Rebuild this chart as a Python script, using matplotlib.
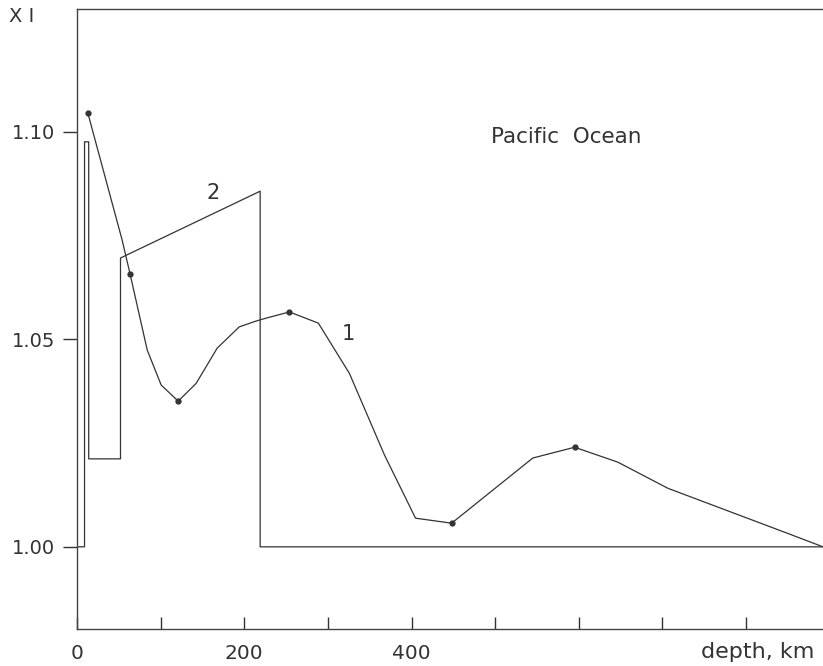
import matplotlib
matplotlib.use("Agg")
import matplotlib.pyplot as plt

# curve 1 (smooth profile, with marked nodes)
depth_1 = [13, 54, 63.5, 84, 100.6, 121, 142.5, 167.7, 194, 214, 226, 254,
           288.6, 325.7, 367.7, 404.8, 448, 545, 595, 646.7, 706.6, 849, 892]
xi_1 = [1.1045, 1.0739, 1.0657, 1.0474, 1.0390, 1.0351, 1.0394, 1.0479,
        1.0530, 1.0544, 1.0551, 1.0566, 1.0539, 1.0418, 1.0221, 1.0069,
        1.0057, 1.0214, 1.0240, 1.0204, 1.0141, 1.0033, 1.0000]
dot_depth = [13, 63.5, 121, 254, 448, 595]
dot_xi = [1.1045, 1.0657, 1.0351, 1.0566, 1.0057, 1.0240]

# curve 2 (step profile)
depth_2 = [0, 9, 9, 14, 14, 52, 52, 219, 219, 892]
xi_2 = [1.000, 1.000, 1.0976, 1.0976, 1.0212, 1.0212, 1.0696, 1.0857, 1.000, 1.000]

x_ticks = [0, 100, 200, 300, 400, 500, 600, 700, 800]
x_labels = ["0", "", "200", "", "400", "", "", "", ""]
y_ticks = [1.00, 1.05, 1.10]
y_labels = ["1.00", "1.05", "1.10"]

ink = "#333333"

fig = plt.figure(figsize=(8.23, 6.66), dpi=100)
ax = fig.add_axes([77 / 823, 37 / 666, 1 - 77 / 823, 620 / 666])

ax.plot(depth_1, xi_1, color=ink, lw=0.9)
ax.plot(dot_depth, dot_xi, "o", color=ink, ms=3.5)
ax.plot(depth_2, xi_2, color=ink, lw=0.9)

ax.set_xlim(0, 892)
ax.set_ylim(0.9802, 1.1296)

ax.set_xticks(x_ticks)
ax.set_xticklabels(x_labels)
ax.set_yticks(y_ticks)
ax.set_yticklabels(y_labels)
ax.tick_params(axis="x", direction="in", length=9, width=1, pad=11,
               labelsize=14.5, colors=ink)
ax.tick_params(axis="y", direction="out", length=10, width=1, pad=6,
               labelsize=14, colors=ink)

for side in ["left", "top", "bottom"]:
    ax.spines[side].set_color("#444444")
    ax.spines[side].set_linewidth(1)
ax.spines["right"].set_visible(False)

ax.text(324, 1.0512, "1", fontsize=15, color=ink, ha="center", va="center")
ax.text(163, 1.0852, "2", fontsize=15, color=ink, ha="center", va="center")
ax.text(585, 1.0987, "Pacific  Ocean", fontsize=15.5, color=ink,
        ha="center", va="center")

fig.text(22 / 823, 1 - 16 / 666, "X I", fontsize=14, color=ink,
         ha="center", va="center")
fig.text(758 / 823, 1 - 652 / 666, "depth, km", fontsize=16, color=ink,
         ha="center", va="center")

fig.savefig("out.png", dpi=100, facecolor="white")
